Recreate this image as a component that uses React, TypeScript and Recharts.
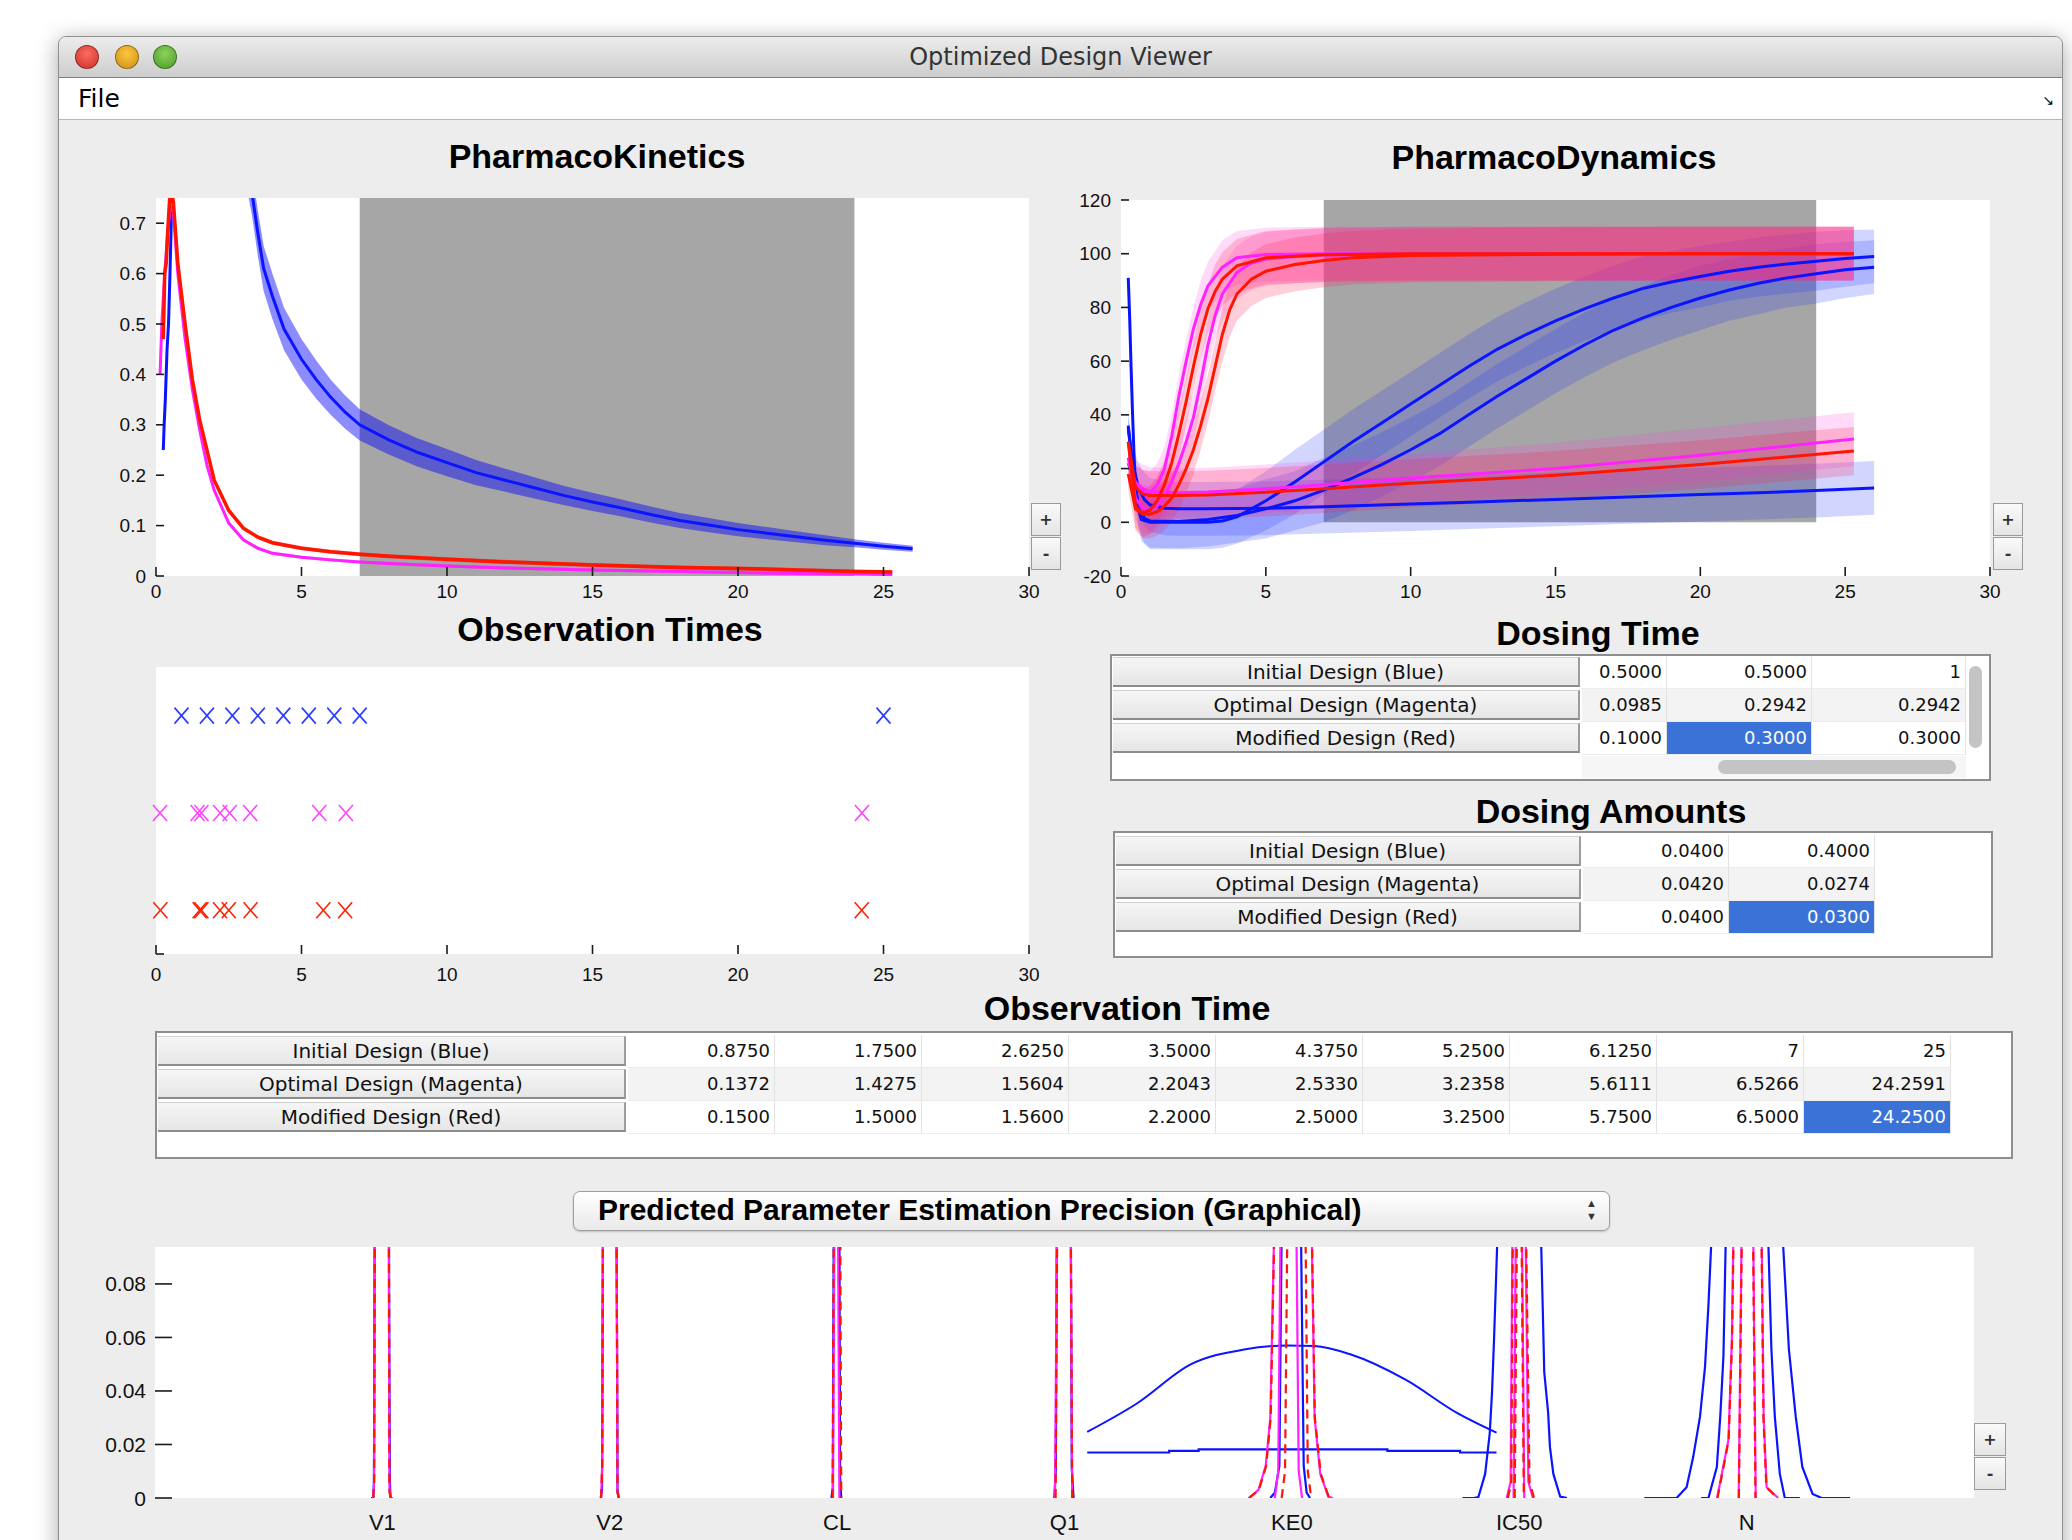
import React from "react";
import {
  ComposedChart,
  Line,
  Area,
  Scatter,
  XAxis,
  YAxis,
  ReferenceArea
} from "recharts";

const FONT_UI = '"DejaVu Sans", "Lucida Grande", sans-serif';
const FONT_AX = '"Liberation Sans", Arial, Helvetica, sans-serif';

// ---------- PharmacoKinetics (time, concentration, band half width)
const pkBlueT = [0.25, 0.28, 0.32, 0.38, 0.43, 0.48, 0.55, 0.7, 1.0, 1.5, 2.0, 2.5, 3.0, 3.3, 3.5, 3.7, 4.0, 4.4, 5, 5.5, 6, 6.5, 7, 8, 9, 10, 11, 12, 13, 14, 15, 16, 17, 18, 19, 20, 21, 22, 23, 24, 25, 26];
const pkBlueC = [0.25, 0.3, 0.35, 0.45, 0.5, 0.6, 0.76, 1.2, 1.8, 1.6, 1.3, 1.05, 0.85, 0.76, 0.68, 0.61, 0.555, 0.49, 0.43, 0.39, 0.355, 0.325, 0.3, 0.27, 0.245, 0.225, 0.205, 0.19, 0.175, 0.16, 0.147, 0.135, 0.122, 0.11, 0.101, 0.092, 0.085, 0.078, 0.071, 0.065, 0.059, 0.054];
const pkBlueW = [0.005, 0.005, 0.005, 0.005, 0.005, 0.005, 0.005, 0.04, 0.04, 0.04, 0.04, 0.04, 0.045, 0.045, 0.045, 0.045, 0.045, 0.042, 0.04, 0.038, 0.035, 0.033, 0.031, 0.029, 0.028, 0.027, 0.025, 0.023, 0.021, 0.019, 0.018, 0.017, 0.016, 0.015, 0.014, 0.013, 0.012, 0.011, 0.01, 0.008, 0.007, 0.006];

const pkRedT = [0.25, 0.27, 0.3, 0.35, 0.4, 0.45, 0.5, 0.6, 0.75, 1.0, 1.25, 1.5, 1.75, 2.0, 2.5, 3.0, 3.5, 4.0, 5, 6, 7, 8, 10, 12, 15, 18, 20, 22, 24, 25.3];
const pkRedC = [0.47, 0.52, 0.6, 0.62, 0.68, 0.73, 0.78, 0.74, 0.62, 0.5, 0.39, 0.31, 0.25, 0.19, 0.13, 0.095, 0.077, 0.066, 0.055, 0.048, 0.043, 0.039, 0.033, 0.028, 0.022, 0.017, 0.015, 0.012, 0.009, 0.008];
const pkRedW = [0.004, 0.004, 0.004, 0.004, 0.004, 0.004, 0.004, 0.004, 0.004, 0.004, 0.004, 0.004, 0.004, 0.004, 0.004, 0.004, 0.004, 0.004, 0.004, 0.004, 0.004, 0.004, 0.004, 0.004, 0.004, 0.004, 0.004, 0.004, 0.004, 0.004];

const pkMagT = [0.14, 0.2, 0.3, 0.4, 0.5, 0.6, 0.75, 1.0, 1.25, 1.5, 1.75, 2.0, 2.5, 3.0, 3.5, 4, 5, 6, 7, 8, 10, 12, 15, 18, 20, 22, 24, 25.3];
const pkMagC = [0.4, 0.5, 0.6, 0.68, 0.74, 0.72, 0.6, 0.47, 0.37, 0.29, 0.22, 0.17, 0.105, 0.072, 0.055, 0.045, 0.037, 0.032, 0.028, 0.025, 0.02, 0.016, 0.012, 0.009, 0.007, 0.005, 0.004, 0.003];
const pkMagW = [0.003, 0.003, 0.003, 0.003, 0.003, 0.003, 0.003, 0.003, 0.003, 0.003, 0.003, 0.003, 0.003, 0.003, 0.003, 0.003, 0.003, 0.003, 0.003, 0.003, 0.003, 0.003, 0.003, 0.003, 0.003, 0.003, 0.003, 0.003];

// ---------- PharmacoDynamics
const pdBlueAT = [0.25, 0.3, 0.35, 0.4, 0.45, 0.5, 0.6, 0.7, 1, 2, 3, 3.5, 4, 5, 6, 7, 8, 9, 10, 11, 12, 13, 14, 15, 16, 17, 18, 19, 20, 21, 22, 23, 24, 25, 26];
const pdBlueAV = [91, 76, 57, 40, 25, 14, 5, 1, 0, 0, 0, 0.5, 2, 8, 15, 22.5, 30, 37, 44, 51, 58, 64.5, 70, 75, 79.5, 83.5, 87, 89.5, 91.5, 93.5, 95, 96.2, 97.2, 98.2, 99];
const pdBlueAW = [3, 3, 3, 3, 4, 5, 6, 8, 10, 10, 10, 10, 10, 11, 12, 12, 12, 12, 12, 12, 12, 12, 12, 12, 12, 12, 12, 11.5, 11.5, 11, 11, 11, 11, 10.5, 10];

const pdBlueBT = [0.25, 0.4, 0.6, 0.8, 1, 2, 3, 4, 5, 6, 7, 8, 9, 10, 11, 12, 13, 14, 15, 16, 17, 18, 19, 20, 21, 22, 23, 24, 25, 26];
const pdBlueBV = [36, 20, 6, 1.5, 0.5, 0.3, 1, 2.5, 5, 8, 12, 16.5, 21.5, 27, 33, 40, 47, 53.5, 60, 66, 71.5, 76, 80, 83.5, 86.5, 89, 91, 92.5, 94, 95];
const pdBlueBW = [4, 6, 8, 9, 10, 10, 10, 10, 11, 11, 12, 12, 12, 12, 12, 12, 12, 12, 12, 12, 12, 12, 12, 12, 11.5, 11.5, 11, 11, 10.5, 10];

const pdBlueCT = [0.25, 0.4, 0.6, 0.8, 1, 1.5, 2, 3, 5, 7, 10, 12, 15, 18, 20, 22, 24, 26];
const pdBlueCV = [35, 22, 13, 8.5, 6.5, 5.2, 5, 5, 5.2, 5.8, 6.8, 7.5, 8.5, 9.6, 10.3, 11, 11.8, 12.8];
const pdBlueCW = [5, 7, 9, 10, 10, 10, 10, 10, 10, 10, 10, 10, 10, 10, 10, 10, 10, 10];

const pdMag1T = [0.25, 0.5, 0.75, 1.0, 1.25, 1.5, 1.75, 2.0, 2.25, 2.5, 2.75, 3.0, 3.5, 4.0, 5, 7, 10, 15, 20, 25.3];
const pdMag1V = [22, 14, 11.5, 11, 14, 20, 32, 47, 60, 72, 81, 88, 95, 98.5, 99.7, 100, 100, 100, 100, 100];
const pdMag1W = [6, 7, 8, 8, 8, 8, 8, 8, 8, 8, 9, 9, 10, 10, 10, 10, 10, 10, 10, 10];

const pdRed1T = [0.25, 0.5, 0.75, 1.0, 1.25, 1.5, 1.75, 2.0, 2.25, 2.5, 2.75, 3.0, 3.25, 3.5, 4, 5, 7, 10, 15, 20, 25.3];
const pdRed1V = [30, 6, 3.5, 4.5, 8, 14, 22, 33, 45, 58, 70, 79.5, 86, 90.5, 95.5, 98.5, 99.6, 100, 100, 100, 100];
const pdRed1W = [6, 8, 9, 9, 9, 9, 9, 9, 9, 9, 9, 9, 10, 10, 10, 10, 10, 10, 10, 10, 10];

const pdMag2T = [0.25, 0.5, 0.75, 1.0, 1.25, 1.5, 1.75, 2.0, 2.25, 2.5, 2.75, 3.0, 3.25, 3.5, 4.0, 4.5, 5, 6, 7, 10, 15, 20, 25.3];
const pdMag2V = [24, 9, 5, 4.5, 6, 10, 15, 22, 30, 39, 52, 66, 77, 85, 93, 96.5, 98, 99, 99.4, 99.9, 100, 100, 100];
const pdMag2W = [6, 8, 9, 9, 9, 9, 9, 9, 9, 9, 9, 9, 9, 10, 10, 10, 10, 10, 10, 10, 10, 10, 10];

const pdRed2T = [0.25, 0.5, 0.75, 1.0, 1.25, 1.5, 1.75, 2.0, 2.25, 2.5, 2.75, 3.0, 3.25, 3.5, 3.75, 4.0, 4.5, 5, 6, 7, 8, 10, 15, 20, 25.3];
const pdRed2V = [18, 5, 3, 3, 4, 6, 9, 14, 20, 27, 36, 46, 58, 70, 79, 85, 90.5, 93.5, 96, 97.5, 98.5, 99.3, 99.8, 100, 100];
const pdRed2W = [6, 8, 9, 9, 9, 9, 9, 9, 9, 9, 9, 9, 9, 10, 10, 10, 10, 10, 10, 10, 10, 10, 10, 10, 10];

const pdMag3T = [0.25, 0.5, 0.75, 1, 2, 3, 5, 7, 10, 15, 20, 25.3];
const pdMag3V = [22, 15, 12.5, 11.5, 11, 11.3, 12.5, 14, 16.5, 20, 25, 31];
const pdMag3W = [7, 8, 9, 9, 9, 9, 9, 9, 9, 9.5, 10, 10];

const pdRed3T = [0.25, 0.5, 0.75, 1, 2, 3, 5, 7, 10, 15, 20, 25.3];
const pdRed3V = [30, 13, 10.5, 10, 10, 10.2, 11.2, 12.5, 14.5, 17.5, 21.5, 26.5];
const pdRed3W = [7, 8, 9, 9, 9, 9, 9, 9, 9, 9, 9, 9];

// ---------- designs
const designNames = ["Initial Design (Blue)", "Optimal Design (Magenta)", "Modified Design (Red)"];
const obsInitial = [0.875, 1.75, 2.625, 3.5, 4.375, 5.25, 6.125, 7, 25];
const obsOptimal = [0.1372, 1.4275, 1.5604, 2.2043, 2.533, 3.2358, 5.6111, 6.5266, 24.2591];
const obsModified = [0.15, 1.5, 1.56, 2.2, 2.5, 3.25, 5.75, 6.5, 24.25];
const doseTimeInitial = [0.5, 0.5, 1];
const doseTimeOptimal = [0.0985, 0.2942, 0.2942];
const doseTimeModified = [0.1, 0.3, 0.3];
const doseAmtInitial = [0.04, 0.4];
const doseAmtOptimal = [0.042, 0.0274];
const doseAmtModified = [0.04, 0.03];

// ---------- precision (x position, density)
const paramNames = ["V1", "V2", "CL", "Q1", "KE0", "IC50", "N"];
const paramPos = [1, 2, 3, 4, 5, 6, 7];

const precBlueV1 = [[0.95, 0], [0.96, 0], [0.963, 0.006], [0.966, 0.1], [1.029, 0.1], [1.031, 0.044], [1.033, 0.006], [1.036, 0], [1.045, 0]];
const precBlueV2 = [[1.96, 0], [1.966, 0.003], [1.97, 0.1], [2.03, 0.1], [2.032, 0.058], [2.034, 0.003], [2.04, 0]];
const precBlueCL = [[2.975, 0], [2.981, 0.004], [2.985, 0.1], [3.01, 0.1], [3.013, 0.008], [3.018, 0]];
const precBlueQ1 = [[3.955, 0], [3.962, 0.011], [3.966, 0.1], [4.028, 0.1], [4.032, 0.011], [4.04, 0]];
const precBlueKE0 = [[4.905, 0], [4.925, 0.002], [4.945, 0.012], [4.955, 0.1], [5.04, 0.1], [5.052, 0.012], [5.065, 0.002], [5.08, 0]];
const precBlueIC50 = [[5.75, 0], [5.8, 0], [5.82, 0.0003], [5.85, 0.009], [5.86, 0.0166], [5.87, 0.024], [5.88, 0.039], [5.889, 0.059], [5.905, 0.1], [6.095, 0.1], [6.103, 0.072], [6.11, 0.047], [6.127, 0.032], [6.135, 0.019], [6.15, 0.009], [6.18, 0.0005], [6.21, 0]];
const precBlueN1 = [[6.55, 0], [6.692, 0], [6.736, 0.004], [6.765, 0.0153], [6.795, 0.0304], [6.817, 0.049], [6.832, 0.072], [6.847, 0.1], [7.157, 0.1], [7.186, 0.0555], [7.216, 0.0304], [7.245, 0.0116], [7.29, 0.0015], [7.33, 0], [7.455, 0]];
const precBlueN2 = [[6.8, 0], [6.832, 0], [6.869, 0.0116], [6.884, 0.0304], [6.898, 0.053], [6.909, 0.1], [7.094, 0.1], [7.109, 0.0555], [7.124, 0.0304], [7.146, 0.009], [7.168, 0], [7.234, 0]];
const precBlueKE0Wide = [[4.1, 0.0247], [4.32, 0.0354], [4.555, 0.0499], [4.79, 0.0555], [4.98, 0.057], [5.1, 0.0568], [5.26, 0.0536], [5.5, 0.0442], [5.73, 0.0316], [5.9, 0.0244]];
const precBlueKE0Flat = [[4.1, 0.017], [4.46, 0.017], [4.46, 0.0176], [4.59, 0.0176], [4.59, 0.0182], [5.42, 0.0182], [5.42, 0.0176], [5.74, 0.0176], [5.74, 0.017], [5.9, 0.017]];

const precMagV1 = [[0.958, 0], [0.963, 0.004], [0.967, 0.1], [1.028, 0.1], [1.031, 0.004], [1.036, 0]];
const precMagV2 = [[1.962, 0], [1.967, 0.013], [1.97, 0.1], [2.03, 0.1], [2.032, 0.058], [2.034, 0.002], [2.04, 0]];
const precMagCL = [[2.982, 0], [2.988, 0.1], [3.004, 0.1], [3.01, 0]];
const precMagQ1 = [[3.958, 0], [3.967, 0.1], [4.027, 0.1], [4.034, 0]];
const precMagKE0a = [[4.81, 0], [4.853, 0.003], [4.885, 0.012], [4.905, 0.03], [4.922, 0.1], [5.087, 0.1], [5.1, 0.03], [5.125, 0.009], [5.16, 0.0005], [5.18, 0]];
const precMagKE0b = [[4.925, 0], [4.94, 0.01], [4.95, 0.1], [5.02, 0.1], [5.03, 0.01], [5.045, 0]];
const precMagIC50a = [[5.945, 0], [5.962, 0.006], [5.97, 0.1], [6.028, 0.1], [6.04, 0.006], [6.06, 0]];
const precMagIC50b = [[5.975, 0], [5.985, 0.1], [6.012, 0.1], [6.022, 0]];
const precMagNa = [[6.87, 0], [6.92, 0.0216], [6.935, 0.059], [6.942, 0.1], [7.066, 0.1], [7.075, 0.03], [7.088, 0.004], [7.139, 0]];
const precMagNb = [[6.965, 0], [6.978, 0.1], [7.029, 0.1], [7.04, 0]];

const precRedV1 = [[0.96, 0], [0.964, 0.006], [0.967, 0.1], [1.029, 0.1], [1.031, 0.002], [1.038, 0]];
const precRedV2 = [[1.962, 0], [1.967, 0.013], [1.97, 0.1], [2.03, 0.1], [2.032, 0.058], [2.034, 0.002], [2.04, 0]];
const precRedCL = [[2.98, 0], [2.985, 0.1], [3.014, 0.1], [3.018, 0]];
const precRedQ1 = [[3.961, 0], [3.968, 0.1], [4.028, 0.1], [4.034, 0]];
const precRedKE0a = [[4.812, 0], [4.855, 0.003], [4.887, 0.012], [4.907, 0.03], [4.923, 0.1], [5.088, 0.1], [5.101, 0.03], [5.127, 0.009], [5.162, 0.0005], [5.18, 0]];
const precRedKE0b = [[4.955, 0], [4.97, 0.01], [4.98, 0.1], [5.06, 0.1], [5.07, 0.01], [5.085, 0]];
const precRedIC50a = [[5.95, 0], [5.965, 0.006], [5.972, 0.1], [6.03, 0.1], [6.045, 0.006], [6.065, 0]];
const precRedIC50b = [[5.98, 0], [5.99, 0.1], [6.01, 0.1], [6.02, 0]];
const precRedNa = [[6.872, 0], [6.921, 0.0216], [6.936, 0.059], [6.943, 0.1], [7.065, 0.1], [7.074, 0.03], [7.087, 0.004], [7.135, 0]];
const precRedNb = [[6.966, 0], [6.979, 0.1], [7.028, 0.1], [7.039, 0]];

// ---------- helpers
const line = (t: number[], v: number[]) => t.map((x, i) => ({ x, y: v[i] }));
const band = (t: number[], v: number[], w: number[]) =>
  t.map((x, i) => ({ x, band: [v[i] - w[i], v[i] + w[i]] }));
const joinPeaks = (peaks: number[][][]) => {
  const out: { x: number; y: number | null }[] = [];
  peaks.forEach((p) => {
    p.forEach(([x, y]) => out.push({ x, y }));
    out.push({ x: p[p.length - 1][0], y: null });
  });
  return out;
};
const fmtNum = (v: number) => (Number.isInteger(v) ? String(v) : v.toFixed(4));

const BLUE = "#0a14ff";
const MAG = "#ff22ff";
const RED = "#ff1500";

const yTick = (margin: number, len: number, size: number, fmt: (v: number) => string) => (p: any) => {
  const ax = p.x + margin;
  return (
    <g>
      {len > 0 && <line x1={ax} x2={ax + len} y1={p.y} y2={p.y} stroke="#1a1a1a" strokeWidth={1.6} />}
      <text x={p.x} y={p.y} textAnchor="end" dominantBaseline="central" fontSize={size} fontFamily={FONT_AX} fill="#111">
        {fmt(p.payload.value)}
      </text>
    </g>
  );
};
const xTick = (margin: number, len: number, size: number, fmt: (v: number) => string, corner = 0) => (p: any) => {
  const ay = p.y - margin;
  return (
    <g>
      {len > 0 && <line x1={p.x} x2={p.x} y1={ay} y2={ay - len} stroke="#1a1a1a" strokeWidth={1.6} />}
      {corner > 0 && p.payload.value === 0 && (
        <line x1={p.x} x2={p.x + corner} y1={ay} y2={ay} stroke="#1a1a1a" strokeWidth={1.6} />
      )}
      <text x={p.x} y={p.y} textAnchor="middle" dominantBaseline="central" fontSize={size} fontFamily={FONT_AX} fill="#111">
        {fmt(p.payload.value)}
      </text>
    </g>
  );
};

function Plot(props: { left: number; top: number; w: number; h: number; yW: number; xH: number; ml?: number; children: React.ReactNode }) {
  const { left, top, w, h, yW, xH, children } = props;
  const m = { top: 16, right: 16, bottom: 0, left: props.ml ?? 0 };
  return (
    <>
      <div style={{ position: "absolute", left, top, width: w, height: h, background: "#fff" }} />
      <div style={{ position: "absolute", left: left - yW - m.left, top: top - m.top }}>
        <ComposedChart width={w + yW + m.left + m.right} height={h + xH + m.top + m.bottom} margin={m}>
          {children}
        </ComposedChart>
      </div>
    </>
  );
}

const XMark = (color: string) => (p: any) => (
  <g stroke={color} strokeWidth={1.6}>
    <line x1={p.cx - 7} y1={p.cy - 8} x2={p.cx + 7} y2={p.cy + 8} />
    <line x1={p.cx - 7} y1={p.cy + 8} x2={p.cx + 7} y2={p.cy - 8} />
  </g>
);

function Title({ x, y, text, size = 34 }: { x: number; y: number; text: string; size?: number }) {
  return (
    <div style={{ position: "absolute", left: x, top: y, transform: "translate(-50%, -50%)", whiteSpace: "nowrap", fontFamily: FONT_AX, fontWeight: "bold", fontSize: size, color: "#000" }}>
      {text}
    </div>
  );
}

function ZoomButtons({ left, top, w }: { left: number; top: number; w: number }) {
  const cell: React.CSSProperties = {
    position: "absolute", left: 0, width: w, height: 33, boxSizing: "border-box",
    border: "1.5px solid #9a9a9a", background: "linear-gradient(#fafafa, #e4e4e4)",
    display: "flex", alignItems: "center", justifyContent: "center", fontFamily: FONT_UI, fontSize: 16, fontWeight: "bold", color: "#333"
  };
  return (
    <div style={{ position: "absolute", left, top }}>
      <div style={{ ...cell, top: 0 }}>+</div>
      <div style={{ ...cell, top: 34 }}>-</div>
    </div>
  );
}

function DataTable(props: {
  left: number; top: number; width: number; height: number; headerW: number; rowTop: number;
  colWs: number[]; values: number[][]; sel: [number, number]; scroll?: boolean;
}) {
  const { left, top, width, height, headerW, rowTop, colWs, values, sel, scroll } = props;
  const pitch = 33;
  return (
    <div style={{ position: "absolute", left, top, width, height, boxSizing: "border-box", border: "2px solid #8e8e8e", background: "#fff" }}>
      {designNames.map((name, r) => (
        <div key={name} style={{
          position: "absolute", left: 1, top: rowTop + r * pitch, width: headerW, height: pitch - 3,
          boxSizing: "border-box", background: "linear-gradient(#f6f6f6, #e6e6e6)",
          borderTop: "1px solid #d0d0d0", borderBottom: "2px solid #8c8c8c", borderRight: "2px solid #9c9c9c",
          display: "flex", alignItems: "center", justifyContent: "center",
          fontFamily: FONT_UI, fontSize: 20, color: "#111", whiteSpace: "nowrap"
        }}>{name}</div>
      ))}
      {values.map((row, r) => {
        let x = headerW + 3;
        return row.map((v, c) => {
          const w = colWs[c];
          const isSel = sel[0] === r && sel[1] === c;
          const cellLeft = x;
          x += w;
          return (
            <div key={r + "-" + c} style={{
              position: "absolute", left: cellLeft, top: rowTop - 1 + r * pitch, width: w, height: pitch,
              boxSizing: "border-box", paddingRight: 4, textAlign: "right", lineHeight: pitch - 2 + "px",
              background: isSel ? "#3a72d8" : r === 1 ? "#f3f3f3" : "#fff",
              borderRight: "1px solid #e2e2e2", borderBottom: "1px solid #ececec",
              color: isSel ? "#fff" : "#111", fontFamily: FONT_UI, fontSize: 18
            }}>{fmtNum(v)}</div>
          );
        });
      })}
      {scroll && (
        <>
          <div style={{ position: "absolute", left: headerW + 3, top: 100, width: colWs.reduce((a, b) => a + b, 0), height: 22, background: "#f6f6f6" }} />
          <div style={{ position: "absolute", left: 606, top: 104, width: 238, height: 14, borderRadius: 7, background: "#c4c4c4" }} />
          <div style={{ position: "absolute", left: 857, top: 10, width: 13, height: 82, borderRadius: 7, background: "#c4c4c4" }} />
        </>
      )}
    </div>
  );
}

const App: React.FC = () => {
  const pkTicksY = [0, 0.1, 0.2, 0.3, 0.4, 0.5, 0.6, 0.7];
  const tTicks = [0, 5, 10, 15, 20, 25, 30];
  const pdTicksY = [-20, 0, 20, 40, 60, 80, 100, 120];
  const precTicksY = [0, 0.02, 0.04, 0.06, 0.08];

  const precBlue = joinPeaks([precBlueV1, precBlueV2, precBlueCL, precBlueQ1, precBlueKE0, precBlueKE0Flat, precBlueIC50, precBlueN1, precBlueN2]);
  const precMag = joinPeaks([precMagV1, precMagV2, precMagCL, precMagQ1, precMagKE0a, precMagKE0b, precMagIC50a, precMagIC50b, precMagNa, precMagNb]);
  const precRed = joinPeaks([precRedV1, precRedV2, precRedCL, precRedQ1, precRedKE0a, precRedKE0b, precRedIC50a, precRedIC50b, precRedNa, precRedNb]);
  const precWide = precBlueKE0Wide.map(([x, y]) => ({ x, y }));

  const pdBands = [
    { d: band(pdBlueAT, pdBlueAV, pdBlueAW), c: "#2030ff", o: 0.2 },
    { d: band(pdBlueBT, pdBlueBV, pdBlueBW), c: "#2030ff", o: 0.2 },
    { d: band(pdBlueCT, pdBlueCV, pdBlueCW), c: "#2030ff", o: 0.2 },
    { d: band(pdMag1T, pdMag1V, pdMag1W), c: "#ff30e0", o: 0.18 },
    { d: band(pdMag2T, pdMag2V, pdMag2W), c: "#ff30e0", o: 0.18 },
    { d: band(pdMag3T, pdMag3V, pdMag3W), c: "#ff30e0", o: 0.18 },
    { d: band(pdRed1T, pdRed1V, pdRed1W), c: "#ff2050", o: 0.22 },
    { d: band(pdRed2T, pdRed2V, pdRed2W), c: "#ff2050", o: 0.22 },
    { d: band(pdRed3T, pdRed3V, pdRed3W), c: "#ff2050", o: 0.22 }
  ];
  const pdLines = [
    { d: line(pdBlueAT, pdBlueAV), c: BLUE },
    { d: line(pdBlueBT, pdBlueBV), c: BLUE },
    { d: line(pdBlueCT, pdBlueCV), c: BLUE },
    { d: line(pdMag1T, pdMag1V), c: MAG },
    { d: line(pdMag2T, pdMag2V), c: MAG },
    { d: line(pdMag3T, pdMag3V), c: MAG },
    { d: line(pdRed1T, pdRed1V), c: RED },
    { d: line(pdRed2T, pdRed2V), c: RED },
    { d: line(pdRed3T, pdRed3V), c: RED }
  ];

  return (
    <div style={{ position: "absolute", left: 0, top: 0, width: 2072, height: 1540, overflow: "hidden", background: "#fff" }}>
      {/* window */}
      <div style={{ position: "absolute", left: 58, top: 36, width: 2003, height: 1530, background: "#ededed", border: "1px solid #8f8f8f", borderRadius: "8px 8px 0 0", boxShadow: "0 4px 22px rgba(0,0,0,0.35)", overflow: "hidden" }}>
        <div style={{ position: "absolute", left: 0, top: 0, width: "100%", height: 40, background: "linear-gradient(#ececec, #cdcdcd)", borderBottom: "1px solid #7e7e7e" }}>
          {[["#ff6a5f", "#c9302a"], ["#ffc63a", "#c8901b"], ["#8bd35a", "#4c9a2a"]].map(([a, b], i) => (
            <div key={i} style={{ position: "absolute", left: [16, 56, 94][i], top: 8, width: 24, height: 24, borderRadius: 12, background: `radial-gradient(circle at 50% 35%, ${a}, ${b})`, border: "1px solid rgba(0,0,0,0.35)", boxSizing: "border-box" }} />
          ))}
          <div style={{ position: "absolute", left: 0, width: "100%", top: 6, textAlign: "center", fontFamily: FONT_UI, fontSize: 24, color: "#333" }}>Optimized Design Viewer</div>
        </div>
        <div style={{ position: "absolute", left: 0, top: 41, width: "100%", height: 41, background: "#fff", borderBottom: "1px solid #b8b8b8" }}>
          <div style={{ position: "absolute", left: 19, top: 6, fontFamily: FONT_UI, fontSize: 25, color: "#000" }}>File</div>
          <div style={{ position: "absolute", right: 8, top: 14, fontFamily: FONT_UI, fontSize: 14, color: "#000" }}>↘</div>
        </div>
      </div>

      {/* titles */}
      <Title x={597} y={156} text="PharmacoKinetics" />
      <Title x={1554} y={157} text="PharmacoDynamics" />
      <Title x={610} y={629} text="Observation Times" />
      <Title x={1598} y={633} text="Dosing Time" />
      <Title x={1611} y={811} text="Dosing Amounts" />
      <Title x={1127} y={1008} text="Observation Time" />

      {/* PharmacoKinetics */}
      <Plot left={156} top={198} w={873} h={378} yW={60} xH={40}>
        <XAxis dataKey="x" type="number" domain={[0, 30]} ticks={tTicks} interval={0} allowDataOverflow axisLine={false} tickLine={false} tickSize={0} tickMargin={15} height={40} tick={xTick(15, 9, 19, (v) => String(v))} />
        <YAxis type="number" domain={[0, 0.75]} ticks={pkTicksY} interval={0} allowDataOverflow axisLine={false} tickLine={false} tickSize={0} tickMargin={10} width={60} tick={yTick(10, 8, 19, (v) => (v === 0 ? "0" : v.toFixed(1)))} />
        <ReferenceArea x1={7} x2={24} y1={0} y2={0.75} fill="#a6a6a6" fillOpacity={1} stroke="none" />
        <Area data={band(pkBlueT, pkBlueC, pkBlueW)} dataKey="band" type="linear" fill="#0000ff" fillOpacity={0.45} stroke="none" isAnimationActive={false} />
        <Area data={band(pkMagT, pkMagC, pkMagW)} dataKey="band" type="linear" fill="#ff00ff" fillOpacity={0.4} stroke="none" isAnimationActive={false} />
        <Area data={band(pkRedT, pkRedC, pkRedW)} dataKey="band" type="linear" fill="#ff0000" fillOpacity={0.4} stroke="none" isAnimationActive={false} />
        <Line data={line(pkBlueT, pkBlueC)} dataKey="y" type="linear" stroke={BLUE} strokeWidth={3} dot={false} activeDot={false} isAnimationActive={false} />
        <Line data={line(pkMagT, pkMagC)} dataKey="y" type="linear" stroke={MAG} strokeWidth={3} dot={false} activeDot={false} isAnimationActive={false} />
        <Line data={line(pkRedT, pkRedC)} dataKey="y" type="linear" stroke={RED} strokeWidth={3.5} dot={false} activeDot={false} isAnimationActive={false} />
      </Plot>
      <ZoomButtons left={1031} top={503} w={30} />

      {/* PharmacoDynamics */}
      <Plot left={1121} top={200} w={869} h={376} yW={60} xH={40}>
        <XAxis dataKey="x" type="number" domain={[0, 30]} ticks={tTicks} interval={0} allowDataOverflow axisLine={false} tickLine={false} tickSize={0} tickMargin={15} height={40} tick={xTick(15, 9, 19, (v) => String(v))} />
        <YAxis type="number" domain={[-20, 120]} ticks={pdTicksY} interval={0} allowDataOverflow axisLine={false} tickLine={false} tickSize={0} tickMargin={10} width={60} tick={yTick(10, 8, 19, (v) => String(v))} />
        <ReferenceArea x1={7} x2={24} y1={0} y2={120} fill="#a6a6a6" fillOpacity={1} stroke="none" />
        {pdBands.map((b, i) => (
          <Area key={"b" + i} data={b.d} dataKey="band" type="linear" fill={b.c} fillOpacity={b.o} stroke="none" isAnimationActive={false} />
        ))}
        {pdLines.map((l, i) => (
          <Line key={"l" + i} data={l.d} dataKey="y" type="linear" stroke={l.c} strokeWidth={3} dot={false} activeDot={false} isAnimationActive={false} />
        ))}
      </Plot>
      <ZoomButtons left={1993} top={503} w={30} />

      {/* Observation Times */}
      <Plot left={156} top={667} w={873} h={287} yW={0} xH={44} ml={30}>
        <XAxis dataKey="x" type="number" domain={[0, 30]} ticks={tTicks} interval={0} axisLine={false} tickLine={false} tickSize={0} tickMargin={20} height={44} tick={xTick(20, 9, 19, (v) => String(v), 8)} />
        <YAxis dataKey="y" type="number" domain={[0.55, 3.5]} hide width={0} />
        <Scatter data={obsInitial.map((x) => ({ x, y: 3 }))} dataKey="y" shape={XMark("#2a3cff")} isAnimationActive={false} />
        <Scatter data={obsOptimal.map((x) => ({ x, y: 2 }))} dataKey="y" shape={XMark("#ff44ff")} isAnimationActive={false} />
        <Scatter data={obsModified.map((x) => ({ x, y: 1 }))} dataKey="y" shape={XMark("#ff2200")} isAnimationActive={false} />
      </Plot>

      {/* tables */}
      <DataTable left={1110} top={654} width={881} height={127} headerW={467} rowTop={1} colWs={[85, 145, 154]}
        values={[doseTimeInitial, doseTimeOptimal, doseTimeModified]} sel={[2, 1]} scroll />
      <DataTable left={1113} top={831} width={880} height={127} headerW={465} rowTop={3} colWs={[146, 146]}
        values={[doseAmtInitial, doseAmtOptimal, doseAmtModified]} sel={[2, 1]} />
      <DataTable left={155} top={1031} width={1858} height={128} headerW={468} rowTop={3} colWs={[147, 147, 147, 147, 147, 147, 147, 147, 147]}
        values={[obsInitial, obsOptimal, obsModified]} sel={[2, 8]} />

      {/* dropdown */}
      <div style={{ position: "absolute", left: 573, top: 1191, width: 1037, height: 40, boxSizing: "border-box", borderRadius: 7, border: "1.5px solid #9d9d9d", background: "linear-gradient(#ffffff, #e9e9e9)", boxShadow: "0 1px 2px rgba(0,0,0,0.2)" }}>
        <div style={{ position: "absolute", left: 24, top: 1, fontFamily: FONT_AX, fontWeight: "bold", fontSize: 30, color: "#000", whiteSpace: "nowrap" }}>
          Predicted Parameter Estimation Precision (Graphical)
        </div>
        <div style={{ position: "absolute", right: 12, top: 5, fontSize: 11, lineHeight: "13px", color: "#333", textAlign: "center" }}>▲<br />▼</div>
      </div>

      {/* precision */}
      <Plot left={155} top={1247} w={1819} h={251} yW={60} xH={50}>
        <XAxis dataKey="x" type="number" domain={[0, 8]} ticks={paramPos} interval={0} allowDataOverflow axisLine={false} tickLine={false} tickSize={0} tickMargin={24} height={50} tick={xTick(24, 0, 22, (v) => paramNames[paramPos.indexOf(v)] ?? "")} />
        <YAxis type="number" domain={[0, 0.0938]} ticks={precTicksY} interval={0} allowDataOverflow axisLine={false} tickLine={false} tickSize={0} tickMargin={9} width={60} tick={yTick(9, 17, 21, (v) => (v === 0 ? "0" : v.toFixed(2)))} />
        <Line data={precBlue} dataKey="y" type="linear" stroke={BLUE} strokeWidth={2.2} dot={false} activeDot={false} connectNulls={false} isAnimationActive={false} />
        <Line data={precWide} dataKey="y" type="monotone" stroke={BLUE} strokeWidth={2} dot={false} activeDot={false} isAnimationActive={false} />
        <Line data={precMag} dataKey="y" type="linear" stroke={MAG} strokeWidth={2.2} dot={false} activeDot={false} connectNulls={false} isAnimationActive={false} />
        <Line data={precRed} dataKey="y" type="linear" stroke={RED} strokeWidth={2.2} strokeDasharray="9 6" dot={false} activeDot={false} connectNulls={false} isAnimationActive={false} />
      </Plot>
      <ZoomButtons left={1974} top={1423} w={32} />
    </div>
  );
};

export default App;
